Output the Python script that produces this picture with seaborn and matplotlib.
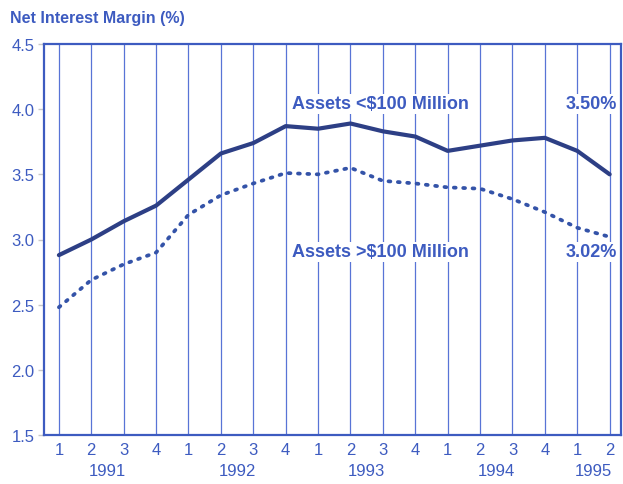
import matplotlib
matplotlib.use("Agg")
import matplotlib.pyplot as plt
import seaborn as sns
import pandas as pd
import numpy as np

quarters = ["1", "2", "3", "4", "1", "2", "3", "4", "1", "2", "3", "4",
            "1", "2", "3", "4", "1", "2"]
years = ["1991", "1992", "1993", "1994", "1995"]
year_pos = [1.5, 5.5, 9.5, 13.5, 16.5]
small_banks = [2.88, 3.00, 3.14, 3.26, 3.46, 3.66, 3.74, 3.87, 3.85, 3.89,
               3.83, 3.79, 3.68, 3.72, 3.76, 3.78, 3.68, 3.50]
large_banks = [2.48, 2.69, 2.81, 2.90, 3.19, 3.34, 3.43, 3.51, 3.50, 3.55,
               3.45, 3.43, 3.40, 3.39, 3.31, 3.21, 3.09, 3.02]
yticks = [1.5, 2.0, 2.5, 3.0, 3.5, 4.0, 4.5]

sns.set_theme(style="white")
plt.rcParams['font.family'] = ['Liberation Sans', 'DejaVu Sans']

BLUE = "#3d5bc0"
GRID = "#5874d6"
LINE1 = "#2d3f85"
LINE2 = "#3453a8"

df = pd.DataFrame({
    "q": np.arange(len(quarters)),
    "small": small_banks,
    "large": large_banks,
})

fig = plt.figure(figsize=(6.23, 4.85), dpi=100)
ax = fig.add_axes([44 / 623, 1 - 436 / 485, (621 - 44) / 623, (436 - 45) / 485])

for xq in df["q"]:
    ax.axvline(xq, color=GRID, lw=0.9, zorder=0)

sns.lineplot(data=df, x="q", y="small", ax=ax, color=LINE1, lw=3.0,
             solid_capstyle="round", zorder=3)
sns.lineplot(data=df, x="q", y="large", ax=ax, color=LINE2, lw=2.7,
             linestyle=(0, (0.5, 2.0)), dash_capstyle="round", zorder=3)

ax.set_xlim(-0.46, 17.35)
ax.set_ylim(1.5, 4.5)
ax.set_yticks(yticks)
ax.set_yticklabels([f"{v:.1f}" for v in yticks], color=BLUE, fontsize=12)
ax.set_xticks(df["q"])
ax.set_xticklabels(quarters, color=BLUE, fontsize=12)
ax.tick_params(axis="y", length=4, width=1, color="#c8c8c8", pad=3, left=True)
ax.tick_params(axis="x", length=0, pad=5)
ax.set_xlabel("")
ax.set_ylabel("")
for s in ax.spines.values():
    s.set_color(BLUE)
    s.set_linewidth(1.6)

for yr, p in zip(years, year_pos):
    ax.text(p, -0.092, yr, transform=ax.get_xaxis_transform(), ha="center",
            va="center", color=BLUE, fontsize=12)

fig.text(10 / 623, 1 - 18 / 485, "Net Interest Margin (%)", color=BLUE,
         fontsize=11.5, fontweight="bold", ha="left", va="center")

box = dict(facecolor="white", edgecolor="none", pad=1)
ax.text(7.19, 4.04, "Assets <$100 Million", color=BLUE, fontsize=13,
        fontweight="bold", ha="left", va="center", bbox=box)
ax.text(17.22, 4.04, "3.50%", color=BLUE, fontsize=13,
        fontweight="bold", ha="right", va="center", bbox=box)
ax.text(7.19, 2.905, "Assets >$100 Million", color=BLUE, fontsize=13,
        fontweight="bold", ha="left", va="center", bbox=box)
ax.text(17.22, 2.905, "3.02%", color=BLUE, fontsize=13,
        fontweight="bold", ha="right", va="center", bbox=box)

fig.savefig("out.png", dpi=100, facecolor="white")
